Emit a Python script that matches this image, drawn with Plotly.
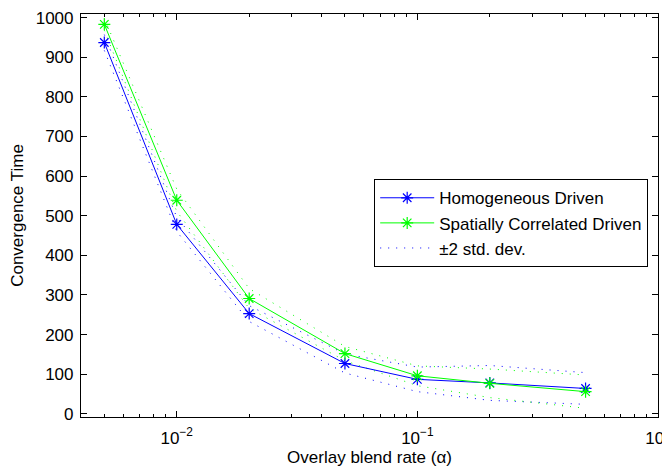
import plotly.graph_objects as go
import numpy as np

alpha = [0.005, 0.01, 0.02, 0.05, 0.1, 0.2, 0.5]
homog_mean = [937, 478, 253, 127, 87, 78, 64]
homog_2sd = [20, 18, 20, 24, 31, 44, 40]
spatial_mean = [983, 539, 291, 152, 96, 77, 56]
spatial_2sd = [15, 28, 25, 18, 25, 36, 42]

y_ticks = list(range(0, 1001, 100))
x_ticks = [0.01, 0.1, 1]
x_tick_text = ["10<sup>\u22122</sup>", "10<sup>\u22121</sup>", "10<sup>0</sup>"]
minor_x = [m * d for d in (0.001, 0.01, 0.1) for m in range(2, 10)]

BLUE = "#0000FF"
GREEN = "#00FF00"
FONT = "Liberation Sans, Arial, Helvetica, sans-serif"
DOT = "1px,7px"

hm = np.array(homog_mean); hs = np.array(homog_2sd)
sm = np.array(spatial_mean); ss = np.array(spatial_2sd)

fig = go.Figure()
# std bands
fig.add_trace(go.Scatter(x=alpha, y=hm + hs, mode="lines", name="\u00b12 std. dev.",
                         line=dict(color=BLUE, width=1, dash=DOT), showlegend=True, legendrank=3))
fig.add_trace(go.Scatter(x=alpha, y=hm - hs, mode="lines", showlegend=False,
                         line=dict(color=BLUE, width=1, dash=DOT)))
fig.add_trace(go.Scatter(x=alpha, y=sm + ss, mode="lines", showlegend=False,
                         line=dict(color=GREEN, width=1, dash=DOT)))
fig.add_trace(go.Scatter(x=alpha, y=sm - ss, mode="lines", showlegend=False,
                         line=dict(color=GREEN, width=1, dash=DOT)))
# means
fig.add_trace(go.Scatter(x=alpha, y=homog_mean, mode="lines+markers", name="Homogeneous Driven",
                         line=dict(color=BLUE, width=1),
                         marker=dict(symbol="asterisk-open", size=10, line=dict(color=BLUE, width=1.2)),
                         legendrank=1))
fig.add_trace(go.Scatter(x=alpha, y=spatial_mean, mode="lines+markers", name="Spatially Correlated Driven",
                         line=dict(color=GREEN, width=1),
                         marker=dict(symbol="asterisk-open", size=10, line=dict(color=GREEN, width=1.2)),
                         legendrank=2))

# page body has an 8px default margin: figure is placed at (8, 8)
fig.update_layout(
    width=662, height=462,
    margin=dict(l=73, r=12, t=6, b=53),
    paper_bgcolor="white", plot_bgcolor="white",
    font=dict(family=FONT, size=17, color="black"),
    showlegend=True,
    legend=dict(x=0.983, y=0.59, xanchor="right", yanchor="top",
                bgcolor="white", bordercolor="black", borderwidth=1,
                font=dict(size=17), tracegroupgap=0, itemwidth=54),
    xaxis=dict(type="log", range=[np.log10(0.004), 0], automargin=False,
               tickmode="array", tickvals=x_ticks, ticktext=x_tick_text,
               ticks="inside", ticklen=6, tickcolor="black", tickwidth=1,
               ticklabelstandoff=5, ticklabeloverflow="allow",
               minor=dict(tickmode="array", tickvals=minor_x, ticks="inside", ticklen=3, tickcolor="black"),
               showline=True, linecolor="black", linewidth=1.2, mirror="ticks",
               showgrid=False, zeroline=False,
               title=dict(text="Overlay blend rate (\u03b1)", font=dict(size=17), standoff=4)),
    yaxis=dict(range=[-8, 1009], tickmode="array", tickvals=y_ticks, automargin=False,
               ticks="inside", ticklen=6, tickcolor="black", tickwidth=1,
               ticklabelstandoff=3,
               showline=True, linecolor="black", linewidth=1.2, mirror="ticks",
               showgrid=False, zeroline=False,
               title=dict(text="Convergence Time", font=dict(size=17), standoff=8)),
)

fig.write_html("out.html")
